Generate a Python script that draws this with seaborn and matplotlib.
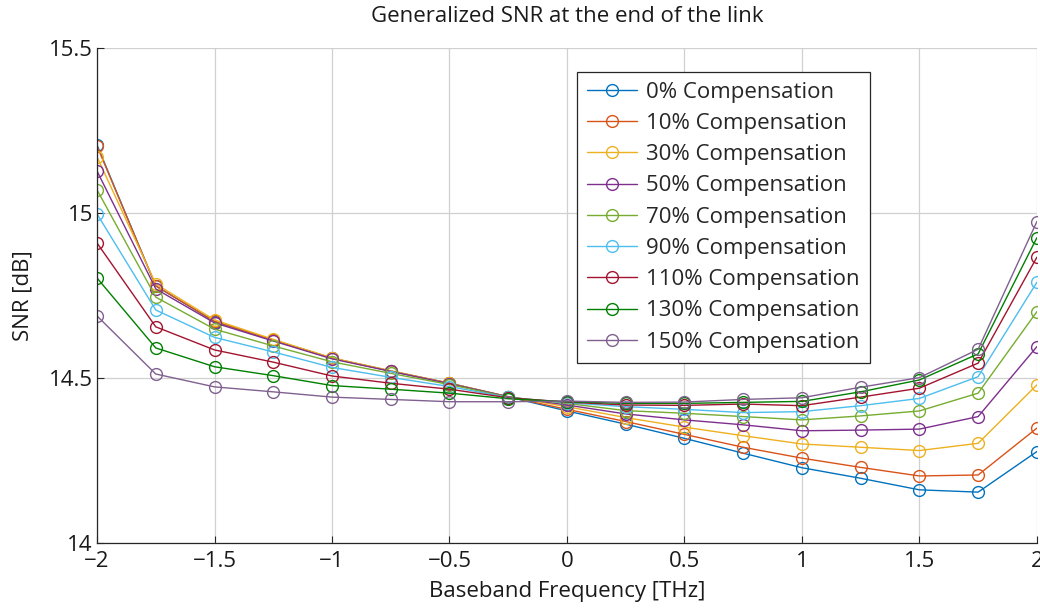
import pandas as pd
import seaborn as sns
import matplotlib
matplotlib.use("Agg")
import matplotlib.pyplot as plt

# Baseband frequency grid [THz]
freq = [-2.0, -1.75, -1.5, -1.25, -1.0, -0.75, -0.5, -0.25, 0.0,
        0.25, 0.5, 0.75, 1.0, 1.25, 1.5, 1.75, 2.0]

# Generalized SNR [dB] per compensation level
snr_0 = [15.206, 14.779, 14.671, 14.615, 14.560, 14.521, 14.484, 14.443, 14.400,
         14.360, 14.317, 14.272, 14.228, 14.196, 14.161, 14.154, 14.277]
snr_10 = [15.203, 14.779, 14.672, 14.615, 14.560, 14.521, 14.484, 14.443, 14.405,
          14.368, 14.329, 14.290, 14.257, 14.229, 14.203, 14.206, 14.348]
snr_30 = [15.170, 14.785, 14.676, 14.617, 14.561, 14.522, 14.484, 14.443, 14.413,
          14.380, 14.351, 14.325, 14.300, 14.290, 14.280, 14.302, 14.479]
snr_50 = [15.127, 14.770, 14.667, 14.612, 14.558, 14.520, 14.483, 14.443, 14.418,
          14.391, 14.373, 14.358, 14.340, 14.342, 14.345, 14.383, 14.595]
snr_70 = [15.070, 14.745, 14.648, 14.597, 14.549, 14.514, 14.480, 14.442, 14.423,
          14.401, 14.393, 14.383, 14.373, 14.385, 14.400, 14.454, 14.701]
snr_90 = [14.997, 14.706, 14.623, 14.579, 14.532, 14.502, 14.474, 14.441, 14.425,
          14.413, 14.405, 14.395, 14.398, 14.416, 14.438, 14.504, 14.790]
snr_110 = [14.909, 14.655, 14.585, 14.548, 14.506, 14.484, 14.466, 14.440, 14.427,
           14.418, 14.417, 14.421, 14.416, 14.442, 14.469, 14.545, 14.866]
snr_130 = [14.803, 14.591, 14.534, 14.507, 14.477, 14.466, 14.454, 14.437, 14.428,
           14.423, 14.423, 14.426, 14.429, 14.458, 14.494, 14.573, 14.925]
snr_150 = [14.688, 14.512, 14.473, 14.458, 14.442, 14.435, 14.428, 14.428, 14.430,
           14.426, 14.427, 14.435, 14.440, 14.472, 14.501, 14.587, 14.974]

labels = ["0% Compensation", "10% Compensation", "30% Compensation",
          "50% Compensation", "70% Compensation", "90% Compensation",
          "110% Compensation", "130% Compensation", "150% Compensation"]
series = [snr_0, snr_10, snr_30, snr_50, snr_70, snr_90, snr_110, snr_130, snr_150]
colors = ["#0072BD", "#D95319", "#EDB120", "#7E2F8E", "#77AC30",
          "#4DBEEE", "#A2142F", "#008000", "#80608F"]

xticks = [-2, -1.5, -1, -0.5, 0, 0.5, 1, 1.5, 2]
xtick_labels = ["\u22122", "\u22121.5", "\u22121", "\u22120.5", "0", "0.5", "1", "1.5", "2"]
yticks = [14, 14.5, 15, 15.5]
ytick_labels = ["14", "14.5", "15", "15.5"]

# Long-format table for seaborn
df = pd.DataFrame({
    "freq": freq * len(series),
    "snr": [v for s in series for v in s],
    "case": [lab for lab in labels for _ in freq],
})

sns.set_style("whitegrid")
plt.rcParams["font.family"] = ["Open Sans", "DejaVu Sans"]

fig = plt.figure(figsize=(10.4, 6.08), dpi=100)
ax = fig.add_axes([0.0933, 0.107, 0.9037, 0.814])

for lab, col in zip(labels, colors):
    sub = df[df["case"] == lab]
    sns.lineplot(data=sub, x="freq", y="snr", color=col, linewidth=1.0,
                 marker="o", markersize=8.5, markerfacecolor="none",
                 markeredgecolor=col, markeredgewidth=1.0,
                 label=lab, ax=ax, legend=False)

ax.set_xlim(-2, 2)
ax.set_ylim(14, 15.5)
ax.set_xticks(xticks)
ax.set_xticklabels(xtick_labels, fontsize=16)
ax.set_yticks(yticks)
ax.set_yticklabels(ytick_labels, fontsize=16)
ax.tick_params(direction="in", length=5, width=0.8, color="#262626",
               labelcolor="#1a1a1a", left=True, bottom=True)
ax.tick_params(axis="x", pad=6)
ax.tick_params(axis="y", pad=3)

ax.grid(True, color="#d0d0d0", linewidth=0.9)
ax.set_axisbelow(True)
for side in ["top", "right"]:
    ax.spines[side].set_visible(False)
for side in ["left", "bottom"]:
    ax.spines[side].set_color("#262626")
    ax.spines[side].set_linewidth(0.9)

ax.set_title("Generalized SNR at the end of the link", fontsize=16, pad=19, color="#1a1a1a")
ax.set_xlabel("Baseband Frequency [THz]", fontsize=16, color="#1a1a1a", labelpad=6)
ax.set_ylabel("SNR [dB]", fontsize=16, color="#1a1a1a", labelpad=11)

leg = ax.legend(loc="upper left", bbox_to_anchor=(0.511, 0.952), fontsize=16,
                frameon=True, fancybox=False, framealpha=1.0, edgecolor="#262626",
                handlelength=2.25, handletextpad=0.4, labelspacing=0.46,
                borderpad=0.45, borderaxespad=0)
leg.get_frame().set_linewidth(0.9)

fig.savefig("out.png", dpi=100)
